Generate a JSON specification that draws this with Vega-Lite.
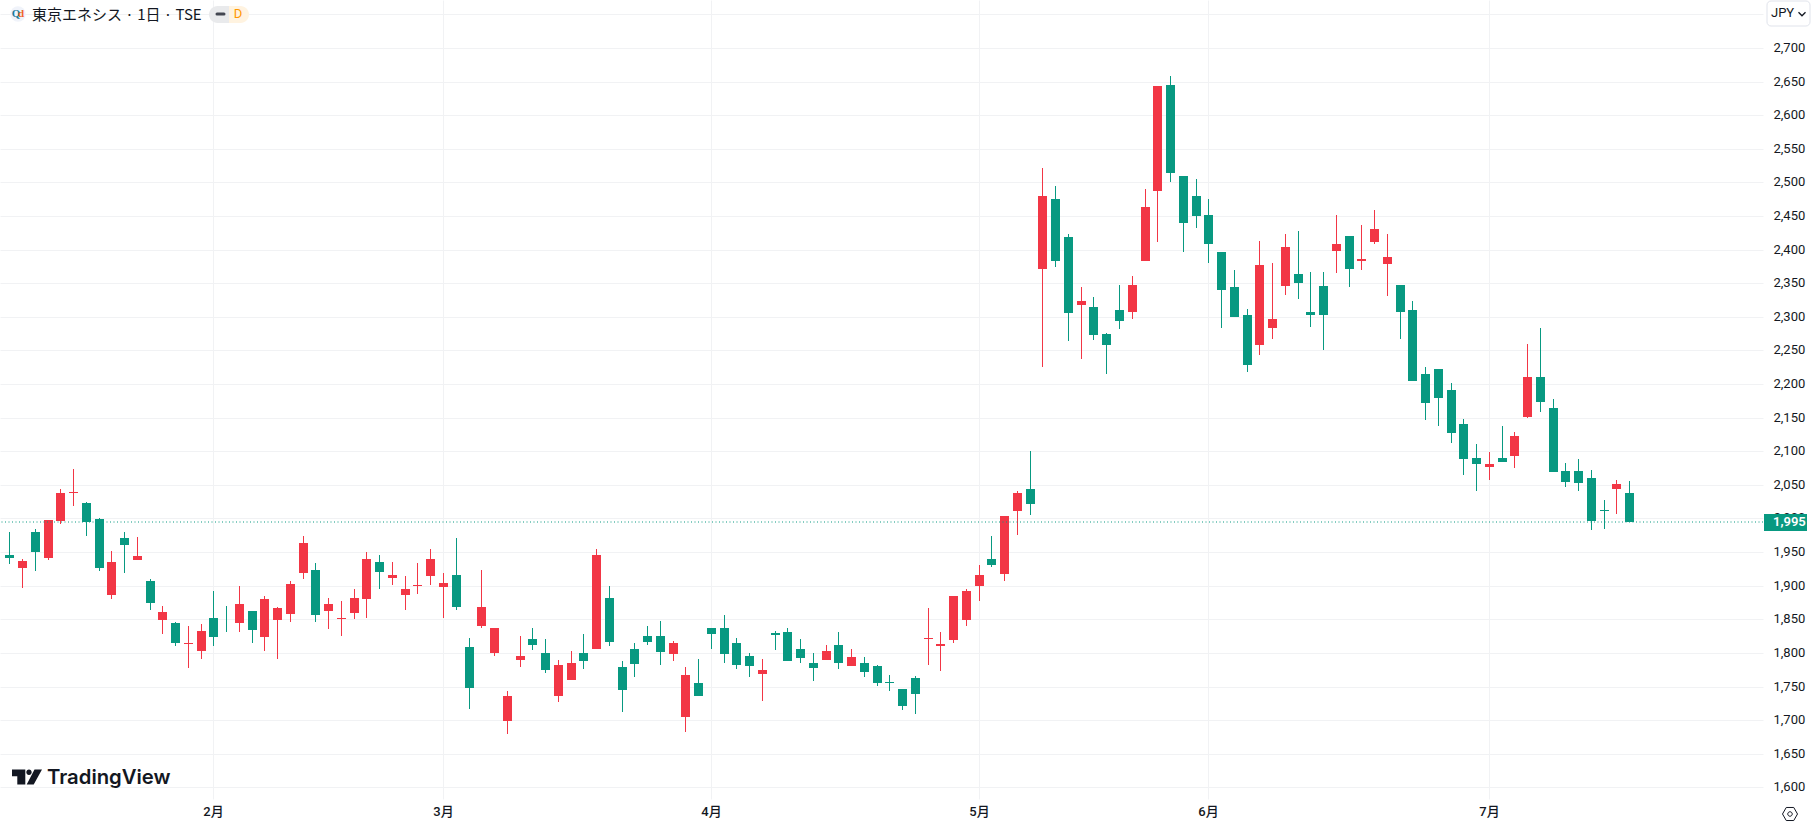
{
  "$schema": "https://vega.github.io/schema/vega-lite/v6.json",
  "width": 1763,
  "height": 799,
  "padding": {"left": 0, "top": 0, "right": 48, "bottom": 27},
  "autosize": {"type": "none"},
  "background": "#ffffff",
  "config": {"view": {"stroke": null}},
  "data": {"name": "candles", "values": [
    {"bar":0,"open":1946,"high":1980,"low":1932,"close":1941},
    {"bar":1,"open":1926,"high":1940,"low":1897,"close":1937},
    {"bar":2,"open":1980,"high":1984,"low":1922,"close":1950},
    {"bar":3,"open":1941,"high":1998,"low":1938,"close":1998},
    {"bar":4,"open":1996,"high":2044,"low":1992,"close":2038},
    {"bar":5,"open":2038,"high":2074,"low":2019,"close":2039.5},
    {"bar":6,"open":2023,"high":2025,"low":1974,"close":1995},
    {"bar":7,"open":1999,"high":2001,"low":1922,"close":1926},
    {"bar":8,"open":1886,"high":1952,"low":1880,"close":1935},
    {"bar":9,"open":1971,"high":1980,"low":1919,"close":1961},
    {"bar":10,"open":1938,"high":1973,"low":1938,"close":1944},
    {"bar":11,"open":1907,"high":1910,"low":1864,"close":1874},
    {"bar":12,"open":1849,"high":1870,"low":1828,"close":1861},
    {"bar":13,"open":1845,"high":1846,"low":1810,"close":1815},
    {"bar":14,"open":1814,"high":1840,"low":1778,"close":1815},
    {"bar":15,"open":1803,"high":1843,"low":1791,"close":1833},
    {"bar":16,"open":1852,"high":1892,"low":1810,"close":1824},
    {"bar":17,"open":1842,"high":1870,"low":1831,"close":1841},
    {"bar":18,"open":1845,"high":1900,"low":1831,"close":1873},
    {"bar":19,"open":1862,"high":1862,"low":1815,"close":1834},
    {"bar":20,"open":1824,"high":1885,"low":1803,"close":1880},
    {"bar":21,"open":1849,"high":1868,"low":1791,"close":1867},
    {"bar":22,"open":1858,"high":1907,"low":1846,"close":1903},
    {"bar":23,"open":1919,"high":1974,"low":1910,"close":1964},
    {"bar":24,"open":1923,"high":1934,"low":1846,"close":1856},
    {"bar":25,"open":1862,"high":1882,"low":1836,"close":1873},
    {"bar":26,"open":1850.5,"high":1877,"low":1825,"close":1851.5},
    {"bar":27,"open":1859,"high":1895,"low":1850,"close":1882},
    {"bar":28,"open":1880,"high":1950,"low":1852,"close":1940},
    {"bar":29,"open":1935,"high":1946,"low":1895,"close":1920},
    {"bar":30,"open":1911,"high":1935,"low":1901,"close":1916},
    {"bar":31,"open":1886,"high":1914,"low":1864,"close":1895},
    {"bar":32,"open":1900,"high":1934,"low":1888,"close":1901},
    {"bar":33,"open":1914.5,"high":1955,"low":1901,"close":1940},
    {"bar":34,"open":1898,"high":1919,"low":1852,"close":1904},
    {"bar":35,"open":1916.4,"high":1971.5,"low":1864,"close":1868.7},
    {"bar":36,"open":1809,"high":1822.4,"low":1716.6,"close":1748},
    {"bar":37,"open":1840.3,"high":1924,"low":1837,"close":1869},
    {"bar":38,"open":1800,"high":1837,"low":1795.6,"close":1837},
    {"bar":39,"open":1698.7,"high":1743.4,"low":1679.3,"close":1736},
    {"bar":40,"open":1789.6,"high":1825.4,"low":1779,"close":1795.6},
    {"bar":41,"open":1821,"high":1837,"low":1804.5,"close":1812},
    {"bar":42,"open":1800,"high":1821,"low":1770,"close":1775},
    {"bar":43,"open":1736,"high":1789.6,"low":1727,"close":1782},
    {"bar":44,"open":1760,"high":1803,"low":1760,"close":1785},
    {"bar":45,"open":1800,"high":1828,"low":1776,"close":1788},
    {"bar":46,"open":1806,"high":1955,"low":1806,"close":1946},
    {"bar":47,"open":1882,"high":1900,"low":1810.5,"close":1816.5},
    {"bar":48,"open":1779,"high":1788,"low":1712,"close":1745},
    {"bar":49,"open":1806,"high":1815,"low":1764,"close":1784},
    {"bar":50,"open":1825,"high":1840,"low":1812,"close":1816.5},
    {"bar":51,"open":1825,"high":1848,"low":1782,"close":1801.6},
    {"bar":52,"open":1798.6,"high":1818,"low":1788,"close":1815},
    {"bar":53,"open":1704.6,"high":1779,"low":1682,"close":1767},
    {"bar":54,"open":1755.3,"high":1791,"low":1736,"close":1736},
    {"bar":55,"open":1837,"high":1837,"low":1806,"close":1828},
    {"bar":56,"open":1837,"high":1857,"low":1785,"close":1798.6},
    {"bar":57,"open":1815,"high":1822.4,"low":1776,"close":1782},
    {"bar":58,"open":1795.6,"high":1800,"low":1764,"close":1780.7},
    {"bar":59,"open":1769,"high":1791,"low":1728,"close":1775},
    {"bar":60,"open":1830,"high":1833,"low":1804.5,"close":1827},
    {"bar":61,"open":1831,"high":1837,"low":1788,"close":1788},
    {"bar":62,"open":1806,"high":1821,"low":1785,"close":1792.6},
    {"bar":63,"open":1785,"high":1800,"low":1758,"close":1778},
    {"bar":64,"open":1790,"high":1812,"low":1790,"close":1803},
    {"bar":65,"open":1812,"high":1831,"low":1776,"close":1785},
    {"bar":66,"open":1781,"high":1806,"low":1781,"close":1794},
    {"bar":67,"open":1785,"high":1794,"low":1764,"close":1772},
    {"bar":68,"open":1780.7,"high":1782,"low":1751,"close":1755},
    {"bar":69,"open":1757,"high":1767,"low":1743,"close":1755.5},
    {"bar":70,"open":1746,"high":1746,"low":1715,"close":1721},
    {"bar":71,"open":1763,"high":1766,"low":1709,"close":1739},
    {"bar":72,"open":1821,"high":1867,"low":1782,"close":1822.5},
    {"bar":73,"open":1810.5,"high":1831,"low":1773,"close":1813.5},
    {"bar":74,"open":1819.5,"high":1885,"low":1815,"close":1885},
    {"bar":75,"open":1849,"high":1895.5,"low":1840,"close":1892.5},
    {"bar":76,"open":1900,"high":1931,"low":1877.6,"close":1916.4},
    {"bar":77,"open":1939.5,"high":1974,"low":1927.5,"close":1930.5},
    {"bar":78,"open":1917,"high":2003,"low":1906.5,"close":2003},
    {"bar":79,"open":2010.7,"high":2040.4,"low":1975,"close":2037.5},
    {"bar":80,"open":2043.4,"high":2100,"low":2004.7,"close":2021},
    {"bar":81,"open":2371.8,"high":2520.8,"low":2225.8,"close":2479},
    {"bar":82,"open":2476,"high":2494,"low":2374.8,"close":2383.7},
    {"bar":83,"open":2418,"high":2422.5,"low":2264.5,"close":2306},
    {"bar":84,"open":2318,"high":2345,"low":2237.7,"close":2324},
    {"bar":85,"open":2315,"high":2330,"low":2266,"close":2273.4},
    {"bar":86,"open":2275,"high":2276.4,"low":2215.3,"close":2258.5},
    {"bar":87,"open":2310.7,"high":2348,"low":2282.4,"close":2294.3},
    {"bar":88,"open":2307.7,"high":2360,"low":2297.3,"close":2348},
    {"bar":89,"open":2383.7,"high":2489.5,"low":2383.7,"close":2462.7},
    {"bar":90,"open":2486.6,"high":2643,"low":2412,"close":2643},
    {"bar":91,"open":2644.5,"high":2658,"low":2500,"close":2513.4},
    {"bar":92,"open":2509,"high":2509,"low":2395.7,"close":2439},
    {"bar":93,"open":2479,"high":2504.5,"low":2431.4,"close":2449.3},
    {"bar":94,"open":2450.8,"high":2476,"low":2380.7,"close":2407.6},
    {"bar":95,"open":2395.7,"high":2395.7,"low":2284,"close":2340.5},
    {"bar":96,"open":2345,"high":2369,"low":2300,"close":2300},
    {"bar":97,"open":2303,"high":2312,"low":2218.3,"close":2228.7},
    {"bar":98,"open":2258.5,"high":2413.5,"low":2243.6,"close":2377.8},
    {"bar":99,"open":2283.9,"high":2380.7,"low":2267.5,"close":2297.3},
    {"bar":100,"open":2346.5,"high":2422.5,"low":2333,"close":2404.6},
    {"bar":101,"open":2364.4,"high":2427,"low":2327,"close":2351},
    {"bar":102,"open":2307.7,"high":2366,"low":2285.4,"close":2303.3},
    {"bar":103,"open":2346.5,"high":2366,"low":2251,"close":2303.3},
    {"bar":104,"open":2398.6,"high":2450.8,"low":2365.8,"close":2409},
    {"bar":105,"open":2419.5,"high":2419.5,"low":2345,"close":2371.8},
    {"bar":106,"open":2383.7,"high":2436,"low":2370.3,"close":2386.7},
    {"bar":107,"open":2410.6,"high":2458.3,"low":2409,"close":2430},
    {"bar":108,"open":2378.6,"high":2423,"low":2331,"close":2389},
    {"bar":109,"open":2347.3,"high":2347.3,"low":2267,"close":2307},
    {"bar":110,"open":2310,"high":2323.5,"low":2204.5,"close":2204.5},
    {"bar":111,"open":2214.9,"high":2225.3,"low":2146.4,"close":2171.8},
    {"bar":112,"open":2222.3,"high":2222.3,"low":2137.5,"close":2179},
    {"bar":113,"open":2191,"high":2201.5,"low":2112.2,"close":2127},
    {"bar":114,"open":2140.5,"high":2147.9,"low":2064.6,"close":2088.4},
    {"bar":115,"open":2089.9,"high":2110.7,"low":2040.8,"close":2081},
    {"bar":116,"open":2076.5,"high":2098.8,"low":2057,"close":2081},
    {"bar":117,"open":2089.9,"high":2137.5,"low":2084,"close":2084},
    {"bar":118,"open":2092.9,"high":2128.6,"low":2075,"close":2122.6},
    {"bar":119,"open":2150.9,"high":2259.5,"low":2149.4,"close":2210.4},
    {"bar":120,"open":2210.4,"high":2283.3,"low":2158.3,"close":2173.2},
    {"bar":121,"open":2164.3,"high":2177.7,"low":2069,"close":2069},
    {"bar":122,"open":2070.6,"high":2082.5,"low":2046.7,"close":2054.2},
    {"bar":123,"open":2070.6,"high":2088.4,"low":2040.8,"close":2052.7},
    {"bar":124,"open":2060,"high":2072,"low":1982.8,"close":1996},
    {"bar":125,"open":2012.5,"high":2027.4,"low":1984.3,"close":2011},
    {"bar":126,"open":2043.8,"high":2057.2,"low":2006.6,"close":2051.2},
    {"bar":127,"open":2037.8,"high":2055.7,"low":1995,"close":1995}
  ]},
  "layer": [
    {
      "encoding": {
        "x": {
          "field": "bar",
          "type": "quantitative",
          "title": null,
          "scale": {"domain": [-0.7315, 137.49], "nice": false, "zero": false, "round": true, "padding": 0},
          "axis": {
            "values": [16, 34, 55, 76, 94, 116],
            "labelExpr": "datum.value==16?'2月':datum.value==34?'3月':datum.value==55?'4月':datum.value==76?'5月':datum.value==94?'6月':'7月'",
            "grid": true,
            "gridColor": "#f1f2f4",
            "domain": false,
            "ticks": false,
            "labelFont": "Roboto, Noto Sans CJK JP",
            "labelFontSize": 13,
            "labelFontWeight": 500,
            "labelColor": "#131722",
            "labelPadding": 6
          }
        },
        "color": {
          "condition": {"test": "datum.close > datum.open", "value": "#F23645"},
          "value": "#089981"
        }
      },
      "layer": [
        {
          "mark": {"type": "rule", "strokeWidth": 1, "xOffset": 0.5},
          "encoding": {
            "y": {
              "field": "low",
              "type": "quantitative",
              "title": null,
              "scale": {"domain": [1582.7, 2771.3], "nice": false, "zero": false, "round": true, "padding": 0},
              "axis": {
                "orient": "right",
                "values": [1600,1650,1700,1750,1800,1850,1900,1950,2000,2050,2100,2150,2200,2250,2300,2350,2400,2450,2500,2550,2600,2650,2700,2750],
                "tickCount": 30,
                "labelExpr": "datum.value > 2700 ? '' : format(datum.value, ',d')",
                "labelOverlap": false,
                "labelOffset": -1,
                "grid": true,
                "gridColor": "#f1f2f4",
                "domain": false,
                "ticks": false,
                "labelFont": "Roboto",
                "labelFontSize": 13,
                "labelColor": "#131722",
                "labelPadding": 10
              }
            },
            "y2": {"field": "high"}
          }
        },
        {
          "mark": {"type": "bar", "size": 9, "xOffset": 0.5},
          "encoding": {
            "y": {"field": "close", "type": "quantitative"},
            "y2": {"field": "open"}
          }
        }
      ]
    },
    {
      "data": {"values": [{"last": 1995}]},
      "mark": {"type": "rule", "color": "#089981", "strokeWidth": 1, "strokeDash": [1, 2.5]},
      "encoding": {"y": {"field": "last", "type": "quantitative"}}
    },
    {
      "data": {"values": [{"label": "price tag"}]},
      "mark": {"type": "rect", "color": "#089981"},
      "encoding": {
        "x": {"datum": 137.57, "type": "quantitative", "scale": {"domain": [-0.7315, 137.49]}},
        "x2": {"datum": 140.94},
        "y": {"datum": 2006.7, "type": "quantitative", "scale": {"domain": [1582.7, 2771.3]}},
        "y2": {"datum": 1981.4}
      }
    },
    {
      "data": {"values": [{"label": "1,995"}]},
      "mark": {"type": "text", "align": "left", "baseline": "middle", "font": "Roboto", "fontSize": 13, "fontWeight": 600, "color": "#ffffff"},
      "encoding": {
        "x": {"datum": 138.25, "type": "quantitative", "scale": {"domain": [-0.7315, 137.49]}},
        "y": {"datum": 1995, "type": "quantitative", "scale": {"domain": [1582.7, 2771.3]}},
        "text": {"field": "label"}
      }
    },
    {
      "data": {"values": [{"label": "logo"}]},
      "mark": {"type": "point", "shape": "circle", "filled": true, "size": 238, "color": "#f0f3fa", "opacity": 1},
      "encoding": {
        "x": {"datum": 0.656, "type": "quantitative", "scale": {"domain": [-0.7315, 137.49]}},
        "y": {"datum": 2749.8, "type": "quantitative", "scale": {"domain": [1582.7, 2771.3]}}
      }
    },
    {
      "data": {"values": [{"label": "Q"}]},
      "mark": {"type": "text", "font": "Liberation Serif", "fontSize": 11, "fontWeight": "bold", "color": "#1b7a9c", "baseline": "middle"},
      "encoding": {
        "x": {"datum": 0.484, "type": "quantitative", "scale": {"domain": [-0.7315, 137.49]}},
        "y": {"datum": 2750.5, "type": "quantitative", "scale": {"domain": [1582.7, 2771.3]}},
        "text": {"field": "label"}
      }
    },
    {
      "data": {"values": [{"label": "d"}]},
      "mark": {"type": "text", "font": "Liberation Serif", "fontSize": 11, "fontWeight": "bold", "color": "#f0632a", "baseline": "middle"},
      "encoding": {
        "x": {"datum": 0.876, "type": "quantitative", "scale": {"domain": [-0.7315, 137.49]}},
        "y": {"datum": 2750.5, "type": "quantitative", "scale": {"domain": [1582.7, 2771.3]}},
        "text": {"field": "label"}
      }
    },
    {
      "data": {"values": [{"label": "東京エネシス · 1日 · TSE"}]},
      "mark": {"type": "text", "align": "left", "baseline": "middle", "font": "Noto Sans CJK JP", "fontSize": 15, "color": "#131722"},
      "encoding": {
        "x": {"datum": 1.754, "type": "quantitative", "scale": {"domain": [-0.7315, 137.49]}},
        "y": {"datum": 2749, "type": "quantitative", "scale": {"domain": [1582.7, 2771.3]}},
        "text": {"field": "label"}
      }
    },
    {
      "data": {"values": [{"label": "pill left"}]},
      "mark": {"type": "rect", "color": "#e9eaec", "cornerRadiusTopLeft": 9, "cornerRadiusBottomLeft": 9},
      "encoding": {
        "x": {"datum": 15.66, "type": "quantitative", "scale": {"domain": [-0.7315, 137.49]}},
        "x2": {"datum": 17.22},
        "y": {"datum": 2762.85, "type": "quantitative", "scale": {"domain": [1582.7, 2771.3]}},
        "y2": {"datum": 2737.1}
      }
    },
    {
      "data": {"values": [{"label": "pill right"}]},
      "mark": {"type": "rect", "color": "#fff3e0", "cornerRadiusTopRight": 9, "cornerRadiusBottomRight": 9},
      "encoding": {
        "x": {"datum": 17.22, "type": "quantitative", "scale": {"domain": [-0.7315, 137.49]}},
        "x2": {"datum": 18.79},
        "y": {"datum": 2762.85, "type": "quantitative", "scale": {"domain": [1582.7, 2771.3]}},
        "y2": {"datum": 2737.1}
      }
    },
    {
      "data": {"values": [{"label": "closed"}]},
      "mark": {"type": "rule", "color": "#434651", "strokeWidth": 3, "strokeCap": "round"},
      "encoding": {
        "x": {"datum": 16.3, "type": "quantitative", "scale": {"domain": [-0.7315, 137.49]}},
        "x2": {"datum": 16.8},
        "y": {"datum": 2750.95, "type": "quantitative", "scale": {"domain": [1582.7, 2771.3]}}
      }
    },
    {
      "data": {"values": [{"label": "D"}]},
      "mark": {"type": "text", "baseline": "middle", "font": "Roboto", "fontSize": 13, "color": "#ff9800"},
      "encoding": {
        "x": {"datum": 17.93, "type": "quantitative", "scale": {"domain": [-0.7315, 137.49]}},
        "y": {"datum": 2749.8, "type": "quantitative", "scale": {"domain": [1582.7, 2771.3]}},
        "text": {"field": "label"}
      }
    },
    {
      "data": {"values": [{"label": "currency box"}]},
      "mark": {"type": "rect", "fill": "#ffffff", "stroke": "#e0e3eb", "strokeWidth": 1, "cornerRadius": 4},
      "encoding": {
        "x": {"datum": 137.8, "type": "quantitative", "scale": {"domain": [-0.7315, 137.49]}},
        "x2": {"datum": 141.16},
        "y": {"datum": 2770.3, "type": "quantitative", "scale": {"domain": [1582.7, 2771.3]}},
        "y2": {"datum": 2732.65}
      }
    },
    {
      "data": {"values": [{"label": "JPY"}]},
      "mark": {"type": "text", "align": "left", "baseline": "middle", "font": "Roboto", "fontSize": 13, "color": "#131722"},
      "encoding": {
        "x": {"datum": 138.12, "type": "quantitative", "scale": {"domain": [-0.7315, 137.49]}},
        "y": {"datum": 2751.25, "type": "quantitative", "scale": {"domain": [1582.7, 2771.3]}},
        "text": {"field": "label"}
      }
    },
    {
      "data": {"values": [{"label": "chevron"}]},
      "mark": {"type": "point", "shape": "M-1,-0.5L0,0.5L1,-0.5", "filled": false, "size": 49, "stroke": "#131722", "strokeWidth": 1.3, "opacity": 1},
      "encoding": {
        "x": {"datum": 140.55, "type": "quantitative", "scale": {"domain": [-0.7315, 137.49]}},
        "y": {"datum": 2750.5, "type": "quantitative", "scale": {"domain": [1582.7, 2771.3]}}
      }
    },
    {
      "data": {"values": [{"label": "settings"}]},
      "mark": {"type": "point", "shape": "M-1,0L-0.5,-0.87L0.5,-0.87L1,0L0.5,0.87L-0.5,0.87ZM-0.3,0A0.3,0.3 0 1,0 0.3,0A0.3,0.3 0 1,0 -0.3,0Z", "filled": false, "size": 225, "stroke": "#131722", "strokeWidth": 1, "opacity": 1},
      "encoding": {
        "x": {"datum": 139.58, "type": "quantitative", "scale": {"domain": [-0.7315, 137.49]}},
        "y": {"datum": 1560.8, "type": "quantitative", "scale": {"domain": [1582.7, 2771.3]}}
      }
    },
    {
      "data": {"values": [{"label": "TradingView mark"}]},
      "mark": {"type": "point", "shape": "M-1,-0.5L-0.113,-0.5L-0.113,0.5L-0.647,0.5L-0.647,-0.05L-1,-0.05ZM1,-0.5L0.5,-0.5L-0.02,0.5L0.447,0.5ZM-0.047,-0.32A0.18,0.18 0 1,0 0.313,-0.32A0.18,0.18 0 1,0 -0.047,-0.32Z", "filled": true, "size": 900, "color": "#131722", "opacity": 1},
      "encoding": {
        "x": {"datum": 1.385, "type": "quantitative", "scale": {"domain": [-0.7315, 137.49]}},
        "y": {"datum": 1614.7, "type": "quantitative", "scale": {"domain": [1582.7, 2771.3]}}
      }
    },
    {
      "data": {"values": [{"label": "TradingView"}]},
      "mark": {"type": "text", "align": "left", "baseline": "middle", "font": "Inter", "fontSize": 20.3, "fontWeight": 600, "color": "#131722"},
      "encoding": {
        "x": {"datum": 2.95, "type": "quantitative", "scale": {"domain": [-0.7315, 137.49]}},
        "y": {"datum": 1613.9, "type": "quantitative", "scale": {"domain": [1582.7, 2771.3]}},
        "text": {"field": "label"}
      }
    }
  ]
}
